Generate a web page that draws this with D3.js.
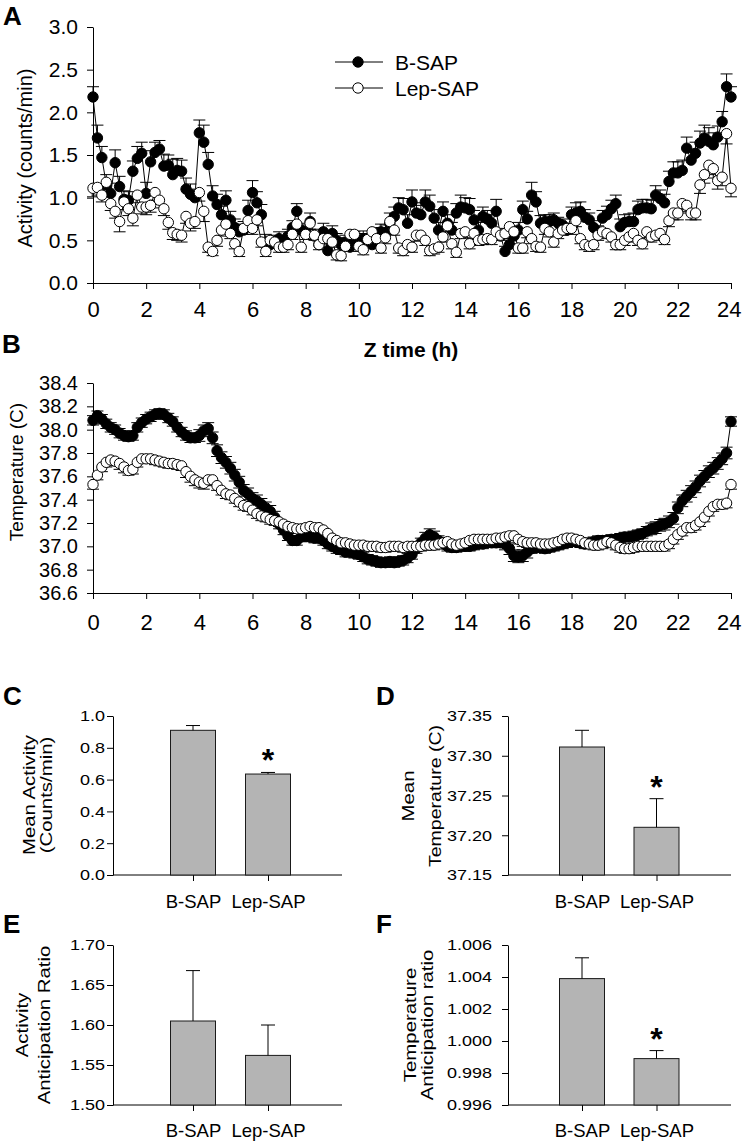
<!DOCTYPE html>
<html><head><meta charset="utf-8">
<script src="https://cdn.jsdelivr.net/npm/d3@7"></script>
<style>
body{margin:0;background:#fff}
svg{display:block}
text{font-family:"Liberation Sans",Arial,sans-serif;fill:#000}
</style>
</head><body>
<svg id="c" width="742" height="1143"></svg>
<script>
// ---------- DATA ----------
const hourTicks = [0,2,4,6,8,10,12,14,16,18,20,22,24];
const activityTicks = [0,0.5,1,1.5,2,2.5,3];
const tempTicks = [36.6,36.8,37.0,37.2,37.4,37.6,37.8,38.0,38.2,38.4];
const seriesNames = ["B-SAP","Lep-SAP"];

// Activity, 10-min bins (0..24 h)
const actBSAP = [
2.18,1.70,1.47,1.15,1.05,1.41, 1.13,0.98,0.97,1.31,1.46,1.52,
1.05,1.42,1.53,1.57,1.37,1.38, 1.27,1.32,1.31,1.10,1.04,1.00,
1.76,1.65,1.39,1.02,0.92,0.80, 0.97,0.74,0.65,0.60,0.62,0.85,
1.06,0.94,0.80,0.47,0.45,0.48, 0.52,0.45,0.55,0.65,0.84,0.62,
0.60,0.72,0.55,0.45,0.60,0.38, 0.58,0.50,0.45,0.48,0.42,0.50,
0.48,0.52,0.50,0.45,0.55,0.60, 0.58,0.70,0.78,0.88,0.86,0.70,
0.95,0.82,0.80,0.95,0.90,0.76, 0.62,0.84,0.70,0.62,0.82,0.89,
0.88,0.86,0.74,0.62,0.78,0.75, 0.70,0.84,0.55,0.37,0.45,0.55,
0.62,0.86,0.75,1.03,0.95,0.70, 0.72,0.72,0.74,0.70,0.68,0.62,
0.80,0.82,0.84,0.77,0.74,0.65, 0.60,0.76,0.80,0.87,0.93,0.66,
0.71,0.72,0.72,0.86,0.88,0.88, 0.87,1.03,0.99,0.94,1.19,1.29,
1.29,1.32,1.58,1.44,1.52,1.64, 1.70,1.66,1.62,1.71,1.89,2.30,
2.18];
const actBSAPErr = [
0.12,0.15,0.13,0.12,0.12,0.15, 0.12,0.10,0.10,0.12,0.14,0.13,
0.13,0.13,0.12,0.10,0.14,0.12, 0.18,0.14,0.13,0.13,0.12,0.10,
0.15,0.20,0.14,0.12,0.12,0.10, 0.11,0.10,0.10,0.09,0.10,0.12,
0.14,0.13,0.12,0.10,0.09,0.08, 0.08,0.08,0.08,0.08,0.09,0.08,
0.08,0.10,0.08,0.10,0.10,0.08, 0.09,0.08,0.08,0.08,0.08,0.10,
0.10,0.09,0.08,0.09,0.10,0.09, 0.10,0.12,0.11,0.12,0.13,0.10,
0.14,0.12,0.11,0.14,0.13,0.10, 0.09,0.11,0.10,0.09,0.11,0.14,
0.12,0.13,0.11,0.09,0.11,0.10, 0.10,0.14,0.09,0.06,0.07,0.08,
0.09,0.10,0.09,0.15,0.12,0.09, 0.08,0.08,0.08,0.07,0.07,0.08,
0.09,0.12,0.11,0.09,0.08,0.08, 0.07,0.09,0.10,0.10,0.10,0.09,
0.09,0.09,0.10,0.10,0.10,0.10, 0.10,0.11,0.10,0.10,0.12,0.13,
0.13,0.12,0.13,0.13,0.13,0.14, 0.15,0.16,0.14,0.13,0.12,0.15,
0.12];
const actLepSAP = [
1.11,1.12,1.03,1.18,0.93,0.84, 0.72,0.95,0.87,0.76,1.03,0.89,
0.89,0.91,1.06,0.97,0.87,0.71, 0.59,0.57,0.56,0.78,0.70,0.72,
1.06,0.84,0.42,0.37,0.50,0.62, 0.69,0.58,0.46,0.37,0.64,0.73,
0.64,0.74,0.48,0.37,0.50,0.48, 0.42,0.42,0.45,0.57,0.69,0.42,
0.57,0.70,0.56,0.45,0.52,0.52, 0.48,0.33,0.32,0.43,0.57,0.57,
0.43,0.39,0.51,0.60,0.52,0.41, 0.53,0.72,0.62,0.41,0.38,0.45,
0.42,0.56,0.56,0.50,0.38,0.40, 0.42,0.54,0.67,0.46,0.36,0.58,
0.60,0.46,0.58,0.50,0.51,0.52, 0.51,0.60,0.56,0.58,0.66,0.60,
0.41,0.41,0.60,0.52,0.43,0.42, 0.64,0.60,0.48,0.58,0.62,0.64,
0.64,0.73,0.52,0.45,0.43,0.45, 0.56,0.60,0.58,0.54,0.45,0.45,
0.50,0.54,0.58,0.50,0.46,0.60, 0.54,0.56,0.58,0.51,0.73,0.82,
0.82,0.93,0.91,0.82,0.82,1.15, 1.27,1.38,1.34,1.20,1.24,1.75,
1.11];
const actLepSAPErr = [
0.10,0.09,0.08,0.09,0.08,0.08, 0.12,0.09,0.08,0.09,0.09,0.08,
0.09,0.08,0.09,0.09,0.08,0.08, 0.08,0.07,0.08,0.08,0.09,0.08,
0.10,0.12,0.06,0.05,0.07,0.07, 0.06,0.06,0.06,0.06,0.07,0.06,
0.07,0.07,0.06,0.06,0.06,0.06, 0.06,0.06,0.06,0.06,0.07,0.06,
0.06,0.07,0.06,0.06,0.06,0.06, 0.06,0.06,0.06,0.06,0.06,0.06,
0.06,0.06,0.06,0.07,0.06,0.06, 0.07,0.07,0.06,0.06,0.06,0.06,
0.06,0.07,0.06,0.06,0.06,0.06, 0.06,0.06,0.07,0.06,0.06,0.06,
0.07,0.06,0.06,0.06,0.06,0.06, 0.06,0.06,0.06,0.06,0.07,0.06,
0.06,0.06,0.07,0.06,0.06,0.06, 0.07,0.06,0.06,0.06,0.06,0.06,
0.07,0.07,0.06,0.06,0.06,0.06, 0.06,0.06,0.06,0.06,0.06,0.06,
0.06,0.06,0.06,0.06,0.06,0.07, 0.06,0.06,0.06,0.06,0.07,0.08,
0.08,0.09,0.09,0.08,0.08,0.10, 0.10,0.11,0.11,0.10,0.10,0.12,
0.10];

// Temperature, 10-min bins (0..24 h)
const tempBSAP = [
38.08,38.12,38.09,38.05,38.02,38.00, 37.97,37.95,37.94,37.95,38.02,38.06,
38.09,38.11,38.13,38.14,38.13,38.10, 38.07,38.02,37.98,37.95,37.93,37.93,
37.95,37.99,38.01,37.93,37.82,37.76, 37.72,37.67,37.61,37.55,37.48,37.45,
37.41,37.39,37.36,37.33,37.30,37.25, 37.19,37.14,37.09,37.05,37.05,37.08,
37.09,37.08,37.07,37.07,37.05,37.02, 37.00,36.98,36.97,36.95,36.95,36.94,
36.93,36.91,36.89,36.88,36.87,36.86, 36.86,36.87,36.86,36.87,36.88,36.90,
36.93,36.98,37.03,37.07,37.10,37.08, 37.05,37.02,37.00,36.99,36.99,37.00,
37.00,37.00,37.01,37.02,37.02,37.03, 37.03,37.03,37.03,37.02,36.98,36.92,
36.91,36.92,36.95,36.98,36.99,36.99, 36.98,36.99,37.00,37.01,37.02,37.03,
37.04,37.04,37.03,37.02,37.03,37.04, 37.05,37.05,37.05,37.06,37.06,37.07,
37.08,37.08,37.09,37.10,37.11,37.13, 37.15,37.16,37.18,37.19,37.21,37.24,
37.33,37.39,37.43,37.47,37.51,37.56, 37.60,37.64,37.67,37.71,37.75,37.80,
38.07];
const tempBSAPErr = [
0.04,0.04,0.04,0.04,0.04,0.04, 0.04,0.04,0.04,0.04,0.04,0.04,
0.04,0.04,0.04,0.04,0.04,0.04, 0.04,0.04,0.04,0.04,0.04,0.04,
0.05,0.05,0.05,0.05,0.05,0.05, 0.05,0.05,0.05,0.05,0.05,0.05,
0.05,0.05,0.05,0.05,0.05,0.05, 0.04,0.04,0.04,0.04,0.04,0.04,
0.04,0.04,0.04,0.04,0.04,0.04, 0.04,0.04,0.04,0.04,0.04,0.04,
0.04,0.04,0.04,0.04,0.04,0.04, 0.04,0.04,0.04,0.04,0.04,0.04,
0.04,0.04,0.04,0.05,0.05,0.05, 0.04,0.04,0.04,0.04,0.04,0.04,
0.04,0.04,0.04,0.04,0.04,0.04, 0.04,0.04,0.04,0.05,0.05,0.05,
0.05,0.05,0.05,0.04,0.04,0.04, 0.04,0.04,0.04,0.04,0.04,0.04,
0.04,0.04,0.04,0.04,0.04,0.04, 0.04,0.04,0.04,0.04,0.04,0.04,
0.04,0.04,0.04,0.04,0.04,0.04, 0.05,0.05,0.05,0.05,0.05,0.05,
0.05,0.05,0.05,0.05,0.05,0.05, 0.05,0.05,0.05,0.05,0.05,0.05,
0.04];
const tempLepSAP = [
37.53,37.61,37.68,37.72,37.74,37.73, 37.71,37.68,37.65,37.66,37.72,37.75,
37.75,37.75,37.74,37.73,37.72,37.71, 37.71,37.70,37.69,37.64,37.60,37.57,
37.55,37.54,37.57,37.57,37.52,37.48, 37.45,37.44,37.41,37.38,37.35,37.34,
37.31,37.28,37.26,37.25,37.23,37.22, 37.21,37.19,37.17,37.16,37.15,37.15,
37.16,37.17,37.16,37.16,37.14,37.11, 37.07,37.05,37.03,37.03,37.02,37.01,
37.01,37.01,37.00,37.00,37.00,36.99, 36.99,37.00,37.00,37.00,36.99,37.00,
37.00,37.00,37.00,37.01,37.01,37.01, 37.02,37.03,37.04,37.02,37.01,37.02,
37.03,37.05,37.06,37.06,37.06,37.06, 37.06,37.07,37.07,37.08,37.09,37.09,
37.06,37.04,37.03,37.03,37.03,37.02, 37.02,37.02,37.03,37.04,37.06,37.07,
37.07,37.06,37.05,37.03,37.02,37.01, 37.01,37.02,37.04,37.03,37.01,36.99,
36.98,36.98,36.99,37.00,37.00,37.00, 37.00,37.00,37.00,37.00,37.02,37.06,
37.10,37.13,37.16,37.16,37.18,37.21, 37.25,37.30,37.34,37.36,37.36,37.37,
37.53];
const tempLepSAPErr = [
0.04,0.04,0.04,0.04,0.04,0.04, 0.05,0.05,0.04,0.04,0.04,0.04,
0.04,0.04,0.04,0.04,0.04,0.04, 0.04,0.04,0.04,0.05,0.05,0.05,
0.05,0.05,0.05,0.04,0.04,0.04, 0.04,0.04,0.04,0.04,0.04,0.04,
0.04,0.04,0.04,0.04,0.04,0.04, 0.04,0.04,0.04,0.04,0.04,0.04,
0.04,0.04,0.04,0.04,0.04,0.04, 0.04,0.04,0.04,0.04,0.04,0.04,
0.04,0.04,0.04,0.04,0.04,0.04, 0.04,0.04,0.04,0.04,0.04,0.04,
0.04,0.04,0.04,0.04,0.04,0.04, 0.04,0.04,0.04,0.04,0.04,0.04,
0.04,0.04,0.04,0.04,0.04,0.04, 0.04,0.04,0.04,0.04,0.04,0.04,
0.04,0.04,0.04,0.04,0.04,0.04, 0.04,0.04,0.04,0.04,0.04,0.04,
0.04,0.04,0.04,0.04,0.04,0.04, 0.04,0.04,0.04,0.04,0.04,0.04,
0.04,0.04,0.04,0.04,0.04,0.04, 0.04,0.04,0.04,0.04,0.04,0.04,
0.04,0.04,0.04,0.04,0.04,0.04, 0.04,0.04,0.04,0.04,0.04,0.04,
0.04];

// Summary bar panels
const meanActivity = [0.91, 0.635];
const meanActivityErr = [0.03, 0.01];
const meanActivityTicks = [0,0.2,0.4,0.6,0.8,1.0];
const meanTemp = [37.311, 37.21];
const meanTempErr = [0.021, 0.036];
const meanTempTicks = [37.15,37.20,37.25,37.30,37.35];
const actRatio = [1.605, 1.562];
const actRatioErr = [0.063, 0.038];
const actRatioTicks = [1.50,1.55,1.60,1.65,1.70];
const tempRatio = [1.0039, 0.9989];
const tempRatioErr = [0.0013, 0.0005];
const tempRatioTicks = [0.996,0.998,1.000,1.002,1.004,1.006];

// ---------- DRAWING ----------
const FONT = '"Liberation Sans",Arial,sans-serif';
const svg = d3.select("#c");
svg.append("rect").attr("width",742).attr("height",1143).attr("fill","#fff");

function styleAxis(sel, fs, sx){
  sel.attr("font-family",FONT).attr("font-size",fs);
  sel.selectAll("path,line").attr("stroke","#000").attr("stroke-width",1);
  sel.selectAll("text").attr("fill","#000");
  if(sx && sx!==1){
    sel.selectAll(".tick text").each(function(){
      const t = d3.select(this); const x = +t.attr("x")||0;
      t.attr("x",0).attr("transform",`translate(${x},0) scale(${sx},1)`);
    });
  }
}
function panelLetter(x,y,t){
  svg.append("text").attr("x",x).attr("y",y).attr("font-size",26).attr("font-weight","bold").text(t);
}
function rotText(x,y,t,fs,sx){
  svg.append("text").attr("transform",`translate(${x},${y}) rotate(-90) scale(${sx||1},1)`)
    .attr("text-anchor","middle").attr("font-size",fs).text(t);
}

function tsPanel(o){
  const g = svg.append("g");
  const x = d3.scaleLinear().domain([0,24]).range([93,731]);
  const y = d3.scaleLinear().domain(o.ydom).range([o.yb,o.yt]);
  const xa = g.append("g").attr("transform",`translate(0,${o.yb})`)
    .call(d3.axisBottom(x).tickValues(hourTicks).tickSize(6).tickSizeOuter(0).tickPadding(o.xpad).tickFormat(d3.format("d")))
    .call(s=>styleAxis(s,22));
  // keep last label inside the page
  xa.selectAll(".tick text").filter(d=>d===24).attr("text-anchor","end").attr("x",10);
  g.append("g").attr("transform","translate(93,0)")
    .call(d3.axisLeft(y).tickValues(o.yticks).tickSize(6).tickSizeOuter(0).tickPadding(o.ypad).tickFormat(d3.format(".1f")))
    .call(s=>styleAxis(s,o.yfs));
  o.series.forEach(s=>{
    const pts = s.values.map((v,i)=>({t:i/6, v, e:s.err[i]}));
    g.append("path").datum(pts)
      .attr("d", d3.line().x(d=>x(d.t)).y(d=>y(d.v)))
      .attr("fill","none").attr("stroke","#000").attr("stroke-width",1);
    const eb = g.append("g").attr("stroke","#000").attr("stroke-width",1);
    pts.forEach(d=>{
      s.dirs.forEach(dir=>{
        const y1 = y(d.v + dir*d.e);
        eb.append("line").attr("x1",x(d.t)).attr("x2",x(d.t)).attr("y1",y(d.v)).attr("y2",y1);
        eb.append("line").attr("x1",x(d.t)-6).attr("x2",x(d.t)+6).attr("y1",y1).attr("y2",y1);
      });
    });
    g.append("g").selectAll("circle").data(pts).join("circle")
      .attr("cx",d=>x(d.t)).attr("cy",d=>y(d.v)).attr("r",5.2)
      .attr("fill",s.fill).attr("stroke","#000").attr("stroke-width",1);
  });
  return {x,y};
}

// Panel A
tsPanel({ydom:[0,3], yb:283, yt:27, yticks:activityTicks, xpad:12, ypad:9, yfs:21,
  series:[
    {values:actBSAP, err:actBSAPErr, fill:"#000", dirs:[1]},
    {values:actLepSAP, err:actLepSAPErr, fill:"#fff", dirs:[-1]}
  ]});
panelLetter(3,25,"A");
rotText(32,158,"Activity (counts/min)",20);

// legend
const legend = svg.append("g");
[["#000",62],["#fff",88]].forEach((d,i)=>{
  legend.append("line").attr("x1",335).attr("x2",383).attr("y1",d[1]).attr("y2",d[1]).attr("stroke","#000").attr("stroke-width",1);
  legend.append("circle").attr("cx",358).attr("cy",d[1]).attr("r",5.2).attr("fill",d[0]).attr("stroke","#000");
  legend.append("text").attr("x",395).attr("y",d[1]).attr("dy","0.36em").attr("font-size",21).text(seriesNames[i]);
});

// Z time label
svg.append("text").attr("x",411).attr("y",357).attr("text-anchor","middle")
  .attr("font-size",21).attr("font-weight","bold").text("Z time (h)");

// Panel B
tsPanel({ydom:[36.6,38.4], yb:593, yt:383, yticks:tempTicks, xpad:15, ypad:9, yfs:20,
  series:[
    {values:tempBSAP, err:tempBSAPErr, fill:"#000", dirs:[1,-1]},
    {values:tempLepSAP, err:tempLepSAPErr, fill:"#fff", dirs:[-1]}
  ]});
panelLetter(2,353,"B");
rotText(23,472,"Temperature (C)",19);

// ---------- Bar panels ----------
function barPanel(o){
  const g = svg.append("g");
  const x = d3.scalePoint().domain(seriesNames).range(o.centers);
  const y = d3.scaleLinear().domain(o.ydom).range([o.yb,o.yt]);
  g.append("g").attr("transform",`translate(${o.ax},0)`)
    .call(d3.axisLeft(y).tickValues(o.ticks).tickSize(6).tickSizeOuter(0).tickPadding(o.ypad).tickFormat(d3.format(o.fmt)))
    .call(s=>styleAxis(s,15,1.2));
  g.append("line").attr("x1",o.ax).attr("x2",o.axEnd).attr("y1",o.yb).attr("y2",o.yb).attr("stroke","#000");
  const xa = g.append("g").attr("transform",`translate(0,${o.yb})`)
    .call(d3.axisBottom(x).tickSize(6).tickSizeOuter(0).tickPadding(o.xpad))
    .call(s=>styleAxis(s,18.5));
  xa.select(".domain").remove();
  const bw = 45;
  const data = seriesNames.map((n,i)=>({n, v:o.values[i], e:o.errs[i]}));
  g.selectAll("rect.bar").data(data).join("rect").attr("class","bar")
    .attr("x",d=>x(d.n)-bw/2).attr("width",bw)
    .attr("y",d=>y(d.v)).attr("height",d=>o.yb-y(d.v))
    .attr("fill","#b4b4b4").attr("stroke","#1a1a1a").attr("stroke-width",1);
  data.forEach(d=>{
    const yt = y(d.v+d.e);
    g.append("line").attr("x1",x(d.n)).attr("x2",x(d.n)).attr("y1",y(d.v)).attr("y2",yt).attr("stroke","#000");
    g.append("line").attr("x1",x(d.n)-7).attr("x2",x(d.n)+7).attr("y1",yt).attr("y2",yt).attr("stroke","#000");
  });
  if(o.star){
    const d = data[1];
    g.append("text").attr("x",x(d.n)).attr("y",y(d.v+d.e)-1).attr("text-anchor","middle")
      .attr("font-size",32).attr("font-weight","bold").text("*");
  }
}

// C
barPanel({ax:113, axEnd:342, centers:[193,268], ydom:[0,1], yb:875, yt:716, ticks:meanActivityTicks, fmt:".1f",
  ypad:2, xpad:14, values:meanActivity, errs:meanActivityErr, star:true});
panelLetter(3,705,"C");
rotText(35,795,"Mean Activity",17,1.2);
rotText(52,795,"(Counts/min)",17,1.2);

// D
barPanel({ax:508, axEnd:731, centers:[582,656.5], ydom:[37.15,37.35], yb:875, yt:716, ticks:meanTempTicks, fmt:".2f",
  ypad:10, xpad:14, values:meanTemp, errs:meanTempErr, star:true});
panelLetter(376,705,"D");
rotText(414,796,"Mean",17,1.2);
rotText(441,796,"Temperature (C)",17,1.15);

// E
barPanel({ax:113, axEnd:342, centers:[193,268], ydom:[1.5,1.7], yb:1105, yt:945, ticks:actRatioTicks, fmt:".2f",
  ypad:2, xpad:13, values:actRatio, errs:actRatioErr, star:false});
panelLetter(3,933,"E");
rotText(28,1025,"Activity",17,1.2);
rotText(50,1025,"Anticipation Ratio",17,1.2);

// F
barPanel({ax:508, axEnd:731, centers:[582,656.5], ydom:[0.996,1.006], yb:1105, yt:945, ticks:tempRatioTicks, fmt:".3f",
  ypad:10, xpad:13, values:tempRatio, errs:tempRatioErr, star:true});
panelLetter(376,933,"F");
rotText(416,1025,"Temperature",17,1.2);
rotText(433,1025,"Anticipation ratio",17,1.2);
</script>
</body></html>
